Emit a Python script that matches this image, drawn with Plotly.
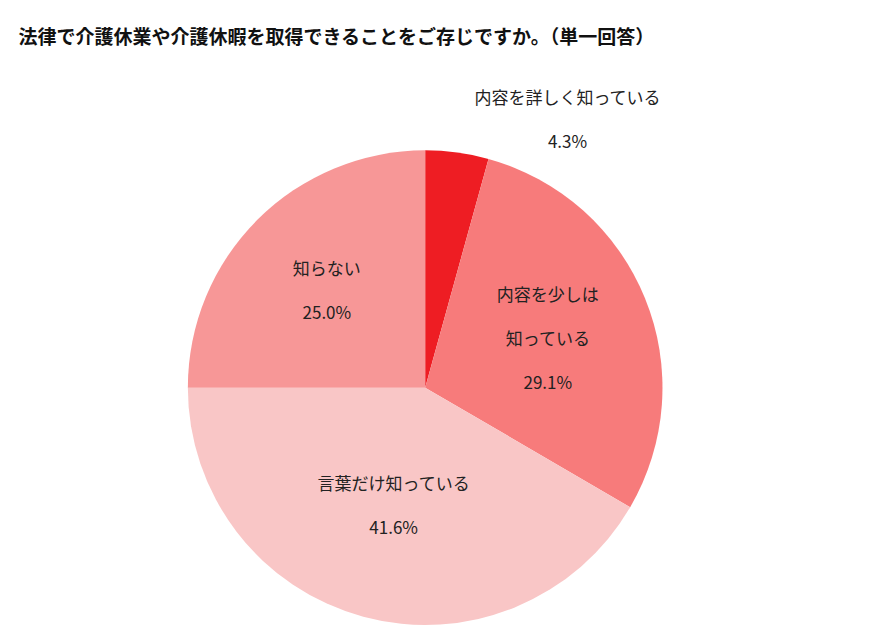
import plotly.graph_objects as go

labels = ["内容を詳しく知っている", "内容を少しは知っている", "言葉だけ知っている", "知らない"]
display = ["内容を詳しく知っている", "内容を少しは<br><br>知っている", "言葉だけ知っている", "知らない"]
values = [4.3, 29.1, 41.6, 25.0]
colors = ["#EE1D23", "#F77B7B", "#F9C6C6", "#F79797"]

fig = go.Figure(go.Pie(
    labels=labels, values=values, text=display, sort=False, direction="clockwise", rotation=0,
    marker=dict(colors=colors, line=dict(color="#FFFFFF", width=0)),
    texttemplate="%{text}<br><br>%{value:.1f}%",
    textposition=["outside", "inside", "inside", "inside"],
    insidetextorientation="horizontal",
    textfont=dict(family="Noto Sans CJK JP", size=17, color="#222222"),
    domain=dict(x=[0.206, 0.753], y=[0.042, 0.779]),
    showlegend=False, hoverinfo="label+value",
))
fig.update_layout(
    width=870, height=644, margin=dict(l=0, r=0, t=0, b=0),
    paper_bgcolor="white",
    title=dict(text="<b>法律で介護休業や介護休暇を取得できることをご存じですか。（単一回答）</b>",
               x=0.012, y=0.955, xanchor="left", yanchor="middle",
               font=dict(family="Noto Sans CJK JP", size=19, color="#111111")),
)
fig.write_html("out.html")
